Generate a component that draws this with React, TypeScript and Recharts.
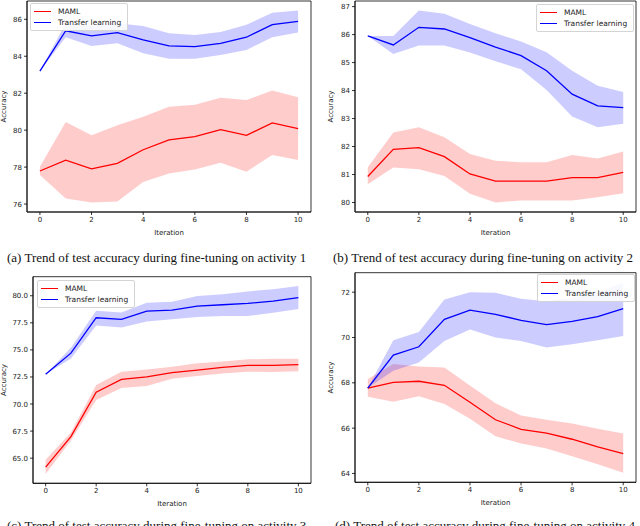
// Four-panel comparison: MAML vs transfer learning accuracy during fine-tuning
import React from "react";
import {
  ComposedChart,
  Area,
  Line,
  XAxis,
  YAxis,
  Legend,
  ReferenceArea,
  Label,
} from "recharts";

const ITERATIONS = [0, 1, 2, 3, 4, 5, 6, 7, 8, 9, 10];
const X_TICKS = [0, 2, 4, 6, 8, 10];
const X_DOMAIN: [number, number] = [-0.5, 10.5];

const SERIES = [
  { name: "MAML", color: "#ff0000" },
  { name: "Transfer learning", color: "#0000ff" },
];

// (a) activity 1
const A_MAML = [77.79, 78.38, 77.9, 78.2, 78.94, 79.47, 79.65, 80.03, 79.72, 80.39, 80.08];
const A_MAML_LO = [77.57, 76.3, 76.09, 76.14, 77.2, 77.66, 77.87, 78.23, 77.75, 78.65, 78.38];
const A_MAML_HI = [78.02, 80.44, 79.72, 80.26, 80.73, 81.27, 81.38, 81.76, 81.63, 82.14, 81.78];
const A_TL = [83.2, 85.38, 85.1, 85.28, 84.88, 84.56, 84.52, 84.7, 85.03, 85.71, 85.89];
const A_TL_LO = [83.2, 85.03, 84.56, 84.7, 84.16, 83.87, 83.87, 84.07, 84.34, 85.03, 85.28];
const A_TL_HI = [83.2, 85.78, 85.65, 85.78, 85.64, 85.24, 85.15, 85.31, 85.71, 86.36, 86.47];
const A_TICKS = [76, 78, 80, 82, 84, 86];

// (b) activity 2
const B_MAML = [80.93, 81.9, 81.96, 81.64, 81.02, 80.76, 80.76, 80.76, 80.89, 80.89, 81.08];
const B_MAML_LO = [80.65, 81.25, 81.19, 80.95, 80.31, 80.0, 80.07, 80.07, 80.07, 80.19, 80.33];
const B_MAML_HI = [81.26, 82.5, 82.69, 82.33, 81.73, 81.49, 81.44, 81.44, 81.7, 81.57, 81.82];
const B_TL = [85.95, 85.63, 86.26, 86.2, 85.89, 85.55, 85.25, 84.71, 83.87, 83.45, 83.39];
const B_TL_LO = [85.95, 85.31, 85.61, 85.61, 85.36, 85.05, 84.76, 84.02, 83.07, 82.69, 82.81];
const B_TL_HI = [85.95, 85.95, 86.86, 86.74, 86.38, 86.05, 85.75, 85.37, 84.71, 84.17, 83.95];
const B_TICKS = [80, 81, 82, 83, 84, 85, 86, 87];

// (c) activity 3
const C_MAML = [64.17, 66.99, 71.09, 72.28, 72.5, 72.9, 73.14, 73.39, 73.57, 73.57, 73.64];
const C_MAML_LO = [63.55, 66.63, 70.38, 71.48, 71.67, 72.34, 72.59, 72.83, 72.99, 72.96, 73.02];
const C_MAML_HI = [64.85, 67.37, 71.76, 72.99, 73.2, 73.45, 73.76, 73.94, 74.13, 74.19, 74.19];
const C_TL = [72.75, 74.7, 77.97, 77.82, 78.59, 78.68, 79.05, 79.17, 79.29, 79.51, 79.82];
const C_TL_LO = [72.75, 74.2, 77.26, 77.08, 77.63, 77.82, 78.03, 78.12, 78.12, 78.43, 78.77];
const C_TL_HI = [72.75, 75.2, 78.62, 78.46, 79.35, 79.45, 79.97, 80.15, 80.4, 80.61, 80.9];
const C_TICKS = [65, 67.5, 70, 72.5, 75, 77.5, 80];

// (d) activity 4
const D_MAML = [67.77, 68.02, 68.07, 67.89, 67.14, 66.37, 65.95, 65.78, 65.51, 65.17, 64.88];
const D_MAML_LO = [67.39, 67.17, 67.41, 67.07, 66.41, 65.64, 65.32, 65.1, 64.76, 64.41, 64.03];
const D_MAML_HI = [68.17, 68.83, 68.72, 68.68, 67.88, 67.1, 66.56, 66.37, 66.2, 65.97, 65.76];
const D_TL = [67.77, 69.22, 69.59, 70.8, 71.21, 71.02, 70.76, 70.57, 70.71, 70.92, 71.27];
const D_TL_LO = [67.77, 68.53, 68.9, 69.85, 70.35, 70.0, 69.85, 69.56, 69.7, 69.88, 70.07];
const D_TL_HI = [67.77, 69.88, 70.24, 71.68, 72.0, 71.97, 71.71, 71.6, 71.75, 71.97, 72.44];
const D_TICKS = [64, 66, 68, 70, 72];

const FONT = "'DejaVu Sans', sans-serif";
const TICK = { fontSize: 7, fill: "#222", fontFamily: FONT };

function LegendBox() {
  return (
    <div
      style={{
        border: "1px solid #d4d4d4",
        borderRadius: 2,
        background: "rgba(255,255,255,0.85)",
        padding: "2px 6px 2px 3px",
        fontFamily: FONT,
        fontSize: 7.5,
        color: "#222",
        lineHeight: "11px",
        whiteSpace: "nowrap",
      }}
    >
      {SERIES.map((s) => (
        <div key={s.name} style={{ display: "flex", alignItems: "center" }}>
          <span
            style={{
              display: "inline-block",
              width: 17,
              height: 0,
              borderTop: `1.3px solid ${s.color}`,
              marginRight: 7,
            }}
          />
          {s.name}
        </div>
      ))}
    </div>
  );
}

interface PanelProps {
  left: number;
  top: number;
  width: number;
  height: number;
  plot: { x0: number; x1: number; y0: number; y1: number };
  yDomain: [number, number];
  yTicks: number[];
  yFmt?: (v: number) => string;
  maml: number[];
  mamlLo: number[];
  mamlHi: number[];
  tl: number[];
  tlLo: number[];
  tlHi: number[];
  legendAt: { x: number; y: number };
  yLabelX: number;
}

function Panel(p: PanelProps) {
  const rows = ITERATIONS.map((it, i) => ({
    it,
    maml: p.maml[i],
    mamlBand: [p.mamlLo[i], p.mamlHi[i]],
    tl: p.tl[i],
    tlBand: [p.tlLo[i], p.tlHi[i]],
  }));
  const { x0, x1, y0, y1 } = p.plot;
  const midY = (y0 + y1) / 2;
  const midX = (x0 + x1) / 2;

  return (
    <div style={{ position: "absolute", left: p.left, top: p.top }}>
      <ComposedChart
        width={p.width}
        height={p.height}
        data={rows}
        margin={{ top: y0, right: p.width - x1, left: 0, bottom: 0 }}
      >
        <XAxis
          dataKey="it"
          type="number"
          domain={X_DOMAIN}
          ticks={X_TICKS}
          allowDataOverflow
          height={p.height - y1}
          tick={TICK}
          tickSize={3}
          tickMargin={2}
          axisLine={{ stroke: "#000", strokeWidth: 0.8 }}
          tickLine={{ stroke: "#000", strokeWidth: 0.8 }}
        >
          <Label
            content={() => (
              <text x={midX} y={y1 + 22.5} textAnchor="middle" fontSize={7} fill="#222" fontFamily={FONT}>
                Iteration
              </text>
            )}
          />
        </XAxis>
        <YAxis
          type="number"
          domain={p.yDomain}
          ticks={p.yTicks}
          interval={0}
          allowDataOverflow
          width={x0}
          tick={TICK}
          tickFormatter={p.yFmt}
          tickSize={3}
          tickMargin={2}
          axisLine={{ stroke: "#000", strokeWidth: 0.8 }}
          tickLine={{ stroke: "#000", strokeWidth: 0.8 }}
        >
          <Label
            content={() => (
              <text
                x={p.yLabelX}
                y={midY}
                transform={`rotate(-90, ${p.yLabelX}, ${midY})`}
                textAnchor="middle"
                dominantBaseline="central"
                fontSize={7}
                fill="#222"
                fontFamily={FONT}
              >
                Accuracy
              </text>
            )}
          />
        </YAxis>
        <Area
          type="linear"
          dataKey="mamlBand"
          stroke="none"
          fill="#ff0000"
          fillOpacity={0.2}
          dot={false}
          activeDot={false}
          isAnimationActive={false}
        />
        <Area
          type="linear"
          dataKey="tlBand"
          stroke="none"
          fill="#0000ff"
          fillOpacity={0.2}
          dot={false}
          activeDot={false}
          isAnimationActive={false}
        />
        <Line
          type="linear"
          dataKey="maml"
          name="MAML"
          stroke="#ff0000"
          strokeWidth={1.3}
          dot={false}
          activeDot={false}
          isAnimationActive={false}
        />
        <Line
          type="linear"
          dataKey="tl"
          name="Transfer learning"
          stroke="#0000ff"
          strokeWidth={1.3}
          dot={false}
          activeDot={false}
          isAnimationActive={false}
        />
        <ReferenceArea
          x1={X_DOMAIN[0]}
          x2={X_DOMAIN[1]}
          y1={p.yDomain[0]}
          y2={p.yDomain[1]}
          fill="none"
          stroke="#000"
          strokeWidth={0.8}
          ifOverflow="visible"
        />
        <Legend
          layout="vertical"
          align="center"
          verticalAlign="middle"
          content={() => <LegendBox />}
          wrapperStyle={{ left: p.legendAt.x, top: p.legendAt.y, width: "auto" }}
        />
      </ComposedChart>
    </div>
  );
}

const CAPTION: React.CSSProperties = {
  position: "absolute",
  fontFamily: "'Liberation Serif', 'Times New Roman', serif",
  fontSize: 13,
  lineHeight: "13px",
  color: "#111",
  whiteSpace: "nowrap",
};

export default function App() {
  return (
    <div
      style={{
        position: "absolute",
        left: 0,
        top: 0,
        width: 640,
        height: 526,
        overflow: "hidden",
        background: "#fff",
      }}
    >
      <Panel
        left={0}
        top={0}
        width={320}
        height={245}
        plot={{ x0: 27, x1: 311, y0: 1, y1: 212 }}
        yDomain={[75.57, 86.99]}
        yTicks={A_TICKS}
        maml={A_MAML}
        mamlLo={A_MAML_LO}
        mamlHi={A_MAML_HI}
        tl={A_TL}
        tlLo={A_TL_LO}
        tlHi={A_TL_HI}
        legendAt={{ x: 30, y: 3 }}
        yLabelX={4}
      />
      <Panel
        left={320}
        top={0}
        width={320}
        height={245}
        plot={{ x0: 35, x1: 316, y0: 1, y1: 212 }}
        yDomain={[79.66, 87.2]}
        yTicks={B_TICKS}
        maml={B_MAML}
        mamlLo={B_MAML_LO}
        mamlHi={B_MAML_HI}
        tl={B_TL}
        tlLo={B_TL_LO}
        tlHi={B_TL_HI}
        legendAt={{ x: 216, y: 4 }}
        yLabelX={11}
      />
      <Panel
        left={0}
        top={250}
        width={320}
        height={265}
        plot={{ x0: 33, x1: 311, y0: 26.7, y1: 233.3 }}
        yDomain={[62.68, 81.76]}
        yTicks={C_TICKS}
        yFmt={(v) => v.toFixed(1)}
        maml={C_MAML}
        mamlLo={C_MAML_LO}
        mamlHi={C_MAML_HI}
        tl={C_TL}
        tlLo={C_TL_LO}
        tlHi={C_TL_HI}
        legendAt={{ x: 37, y: 30 }}
        yLabelX={4}
      />
      <Panel
        left={320}
        top={250}
        width={320}
        height={265}
        plot={{ x0: 35, x1: 316, y0: 22.7, y1: 232.3 }}
        yDomain={[63.61, 72.86]}
        yTicks={D_TICKS}
        maml={D_MAML}
        mamlLo={D_MAML_LO}
        mamlHi={D_MAML_HI}
        tl={D_TL}
        tlLo={D_TL_LO}
        tlHi={D_TL_HI}
        legendAt={{ x: 217, y: 24 }}
        yLabelX={11}
      />
      <div style={{ ...CAPTION, left: 7, top: 251 }}>
        (a) Trend of test accuracy during fine-tuning on activity 1
      </div>
      <div style={{ ...CAPTION, left: 333, top: 251 }}>
        (b) Trend of test accuracy during fine-tuning on activity 2
      </div>
      <div style={{ ...CAPTION, left: 7, top: 519 }}>
        (c) Trend of test accuracy during fine-tuning on activity 3
      </div>
      <div style={{ ...CAPTION, left: 335, top: 519 }}>
        (d) Trend of test accuracy during fine-tuning on activity 4
      </div>
    </div>
  );
}
